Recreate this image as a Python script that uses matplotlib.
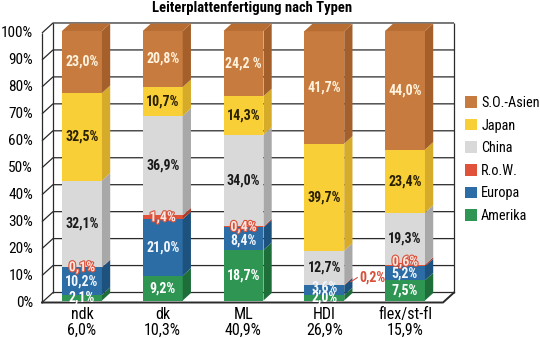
import matplotlib.pyplot as plt
from matplotlib.patches import Polygon, Patch
import matplotlib.patheffects as pe

plt.rcParams['font.family'] = ['Liberation Sans Narrow', 'Arial Narrow', 'Roboto Condensed',
                               'Archivo Narrow', 'IBM Plex Sans Condensed',
                               'Encode Sans Condensed', 'Fira Sans Condensed', 'DejaVu Sans']

categories = ["ndk", "dk", "ML", "HDI", "flex/st-fl"]
shares = ["6,0%", "10,3%", "40,9%", "26,9%", "15,9%"]

regions = ["Amerika", "Europa", "R.o.W.", "China", "Japan", "S.O.-Asien"]
amerika = [2.1, 9.2, 18.7, 2.0, 7.5]
europa = [10.2, 21.0, 8.4, 3.6, 5.2]
row = [0.1, 1.4, 0.4, 0.2, 0.6]
china = [32.1, 36.9, 34.0, 12.7, 19.3]
japan = [32.5, 10.7, 14.3, 39.7, 23.4]
so_asien = [23.0, 20.8, 24.2, 41.7, 44.0]
series = [amerika, europa, row, china, japan, so_asien]

ticks = list(range(0, 101, 10))

# front, side, top, label colour
styles = [
    ("#2E9553", "#1E6E3A", "#27834A", "#FFFFFF"),
    ("#2B6DA4", "#1E527E", "#255F90", "#F2F6FF"),
    ("#E0533A", "#B03C28", "#C94730", "#FBE6E0"),
    ("#D9D9D9", "#A8A8A8", "#C4C4C4", "#1A1A1A"),
    ("#F9CF37", "#D6AB29", "#E8BE30", "#2A2000"),
    ("#C87B3E", "#A45F2A", "#B86D33", "#FFF3DE"),
]

# small labels nudged (percent points) so they don't collide
label_shift = {("HDI", "Europa"): 1.0, ("flex/st-fl", "R.o.W."): 1.4,
               ("ML", "Europa"): -0.8}

fig = plt.figure(figsize=(5.4, 3.38), dpi=100)
ax = fig.add_axes([0, 0, 1, 1])
ax.set_xlim(-0.988, 5.699)
ax.set_ylim(-13.17, 112.24)
ax.axis('off')

# depth vector of the box (front plane -> back wall)
DX, DY = 0.136, 3.71


def at(x, y, d):
    return (x + d * DX, y + d * DY)


x_left, x_right = -0.468, 4.498
line_kw = dict(color='#2A2A2A', lw=0.9, zorder=1, solid_capstyle='butt')

# walls and grid
for t in ticks:
    pts = [at(x_left, t, 0), at(x_left, t, 1), at(x_right, t, 1)]
    ax.plot(*zip(*pts), **line_kw)
    ax.text(x_left - 0.11, t, f"{t}%", ha='right', va='center', fontsize=11)
for x, d in [(x_left, 0), (x_left, 1), (x_right, 1)]:
    pts = [at(x, 0, d), at(x, 100, d)]
    ax.plot(*zip(*pts), **line_kw)
floor = [at(x_left, 0, 0), at(x_right, 0, 0), at(x_right, 0, 1)]
ax.plot(*zip(*floor), color='#2A2A2A', lw=1.4, zorder=1)

# stacked 3d bars
W = 0.495
d0, d1 = 0.2, 0.95
for i, cat in enumerate(categories):
    x0 = i - W / 2
    bottom = 0
    for k, vals in enumerate(series):
        v = vals[i]
        top = bottom + v
        front_c, side_c, top_c, txt_c = styles[k]
        front = [at(x0, bottom, d0), at(x0 + W, bottom, d0),
                 at(x0 + W, top, d0), at(x0, top, d0)]
        side = [at(x0 + W, bottom, d0), at(x0 + W, bottom, d1),
                at(x0 + W, top, d1), at(x0 + W, top, d0)]
        ax.add_patch(Polygon(front, closed=True, fc=front_c, ec='none', zorder=3))
        ax.add_patch(Polygon(side, closed=True, fc=side_c, ec='none', zorder=3))
        if k == len(series) - 1:
            lid = [at(x0, top, d0), at(x0 + W, top, d0),
                   at(x0 + W, top, d1), at(x0, top, d1)]
            ax.add_patch(Polygon(lid, closed=True, fc=top_c, ec='none', zorder=3))

        label = f"{v:.1f}%".replace('.', ',')
        if cat == "ML" and regions[k] == "S.O.-Asien":
            label = label.replace('%', ' %')
        cx, cy = at(i, bottom + v / 2 + label_shift.get((cat, regions[k]), 0), d0)
        if regions[k] == "R.o.W.":
            if cat == "HDI":
                sx, sy = at(x0 + W, bottom + v / 2, d1)
                ax.plot([sx - 0.02, sx + 0.06], [sy - 1.5, sy], color='#D9503A',
                        lw=0.8, zorder=4)
                ax.text(sx + 0.08, sy, label, ha='left', va='center',
                        fontsize=10, weight='bold', color='#D9503A', zorder=5)
            else:
                ax.text(cx, cy, label, ha='center', va='center', fontsize=10,
                        weight='bold', color=txt_c, zorder=5,
                        path_effects=[pe.withStroke(linewidth=1.6,
                                                    foreground='#D9503A')])
        else:
            ax.text(cx, cy, label, ha='center', va='center', fontsize=10,
                    weight='bold', color=txt_c, zorder=5)
        bottom = top

    lx, _ = at(i, 0, d0)
    ax.text(lx, -4.6, cat, ha='center', va='center', fontsize=11.5)
    ax.text(lx, -10.2, shares[i], ha='center', va='center', fontsize=11.5)

fig.text(252 / 540, 1 - 8 / 338, "Leiterplattenfertigung nach Typen",
         ha='center', va='center', fontsize=10.5, weight='bold')

handles = [Patch(facecolor=s[0], edgecolor='none') for s in styles][::-1]
ax.legend(handles, regions[::-1], loc='upper left',
          bbox_to_anchor=(465 / 540, 1 - 96 / 338), bbox_transform=fig.transFigure,
          frameon=False, fontsize=10.3, borderpad=0, borderaxespad=0,
          handlelength=0.85, handleheight=0.87, handletextpad=0.28,
          labelspacing=0.6)

fig.savefig("out.png", dpi=100)
